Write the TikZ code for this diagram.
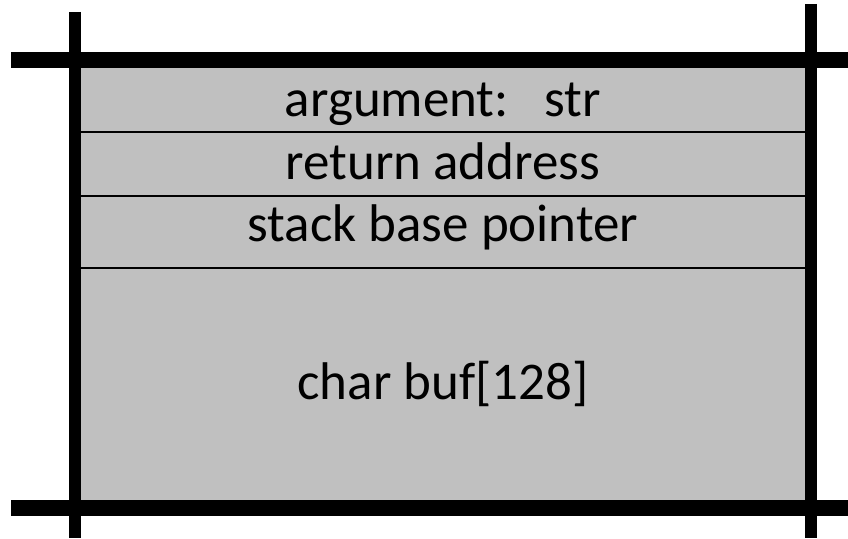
\documentclass[tikz,border=0pt]{standalone}
\usepackage{fontspec}
\setmainfont{Carlito}
\begin{document}
\begin{tikzpicture}[x=1pt,y=1pt,
  framebar/.style={line width=16pt},
  postbar/.style={line width=12pt},
  slotline/.style={line width=2pt},
  slottext/.style={anchor=base,inner sep=0pt,font=\fontsize{53}{64}\selectfont}]
\useasboundingbox (0,0) rectangle (848,538);
% stack frame body
\fill[fill={rgb,255:red,192;green,192;blue,192}] (81,38) rectangle (805,470);
% slot separators
\draw[slotline] (81,406.3) -- (805,406.3);
\draw[slotline] (81,342) -- (805,342);
\draw[slotline] (81,270.3) -- (805,270.3);
% frame outline
\draw[postbar] (75,526) -- (75,0);
\draw[postbar] (811,534) -- (811,0);
\draw[framebar] (11,478) -- (848,478);
\draw[framebar] (11,30) -- (848,30);
% slot labels
\node[slottext] (arg) at (443,421) {argument:\ \ \ str};
\node[slottext] (ret) at (443,358) {return address};
\node[slottext] (sbp) at (443,296) {stack base pointer};
\node[slottext] (buf) at (443,138) {char buf[128]};
\end{tikzpicture}
\end{document}
